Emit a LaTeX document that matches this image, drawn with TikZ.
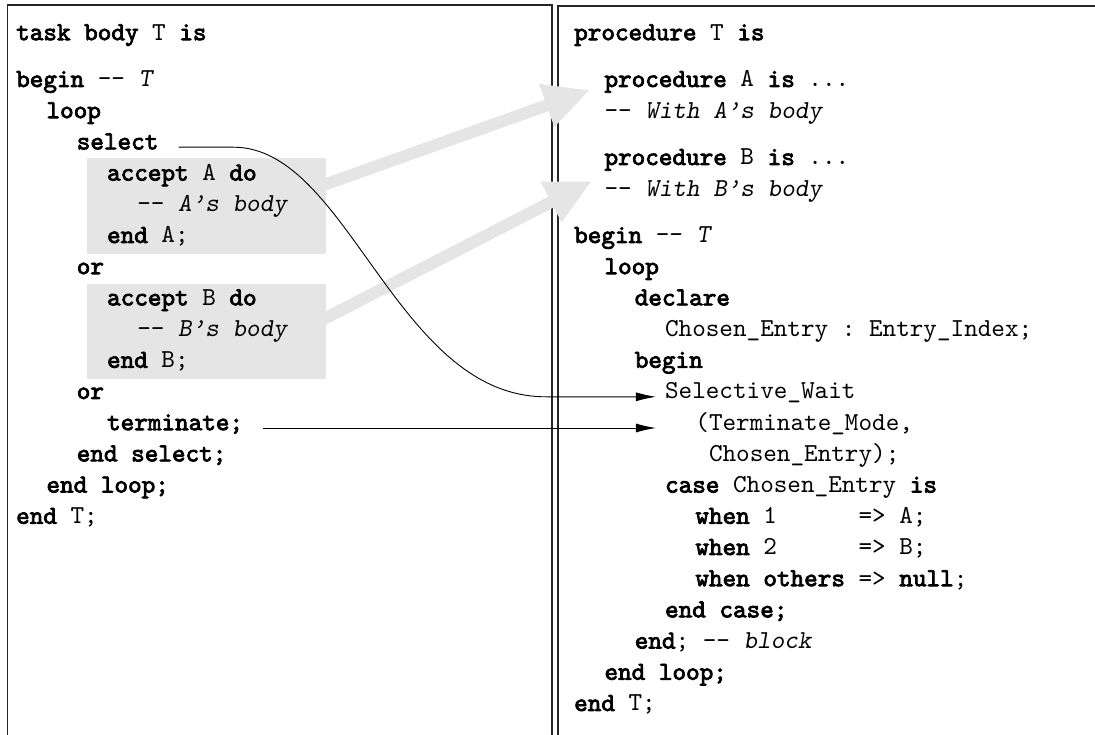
\documentclass[tikz,border=0pt]{standalone}
\usepackage{fontspec}
\setmonofont{lmmono10-regular.otf}[
  BoldFont=lmmono10-regular.otf, BoldFeatures={FakeBold=3},
  ItalicFont=lmmonoslant10-regular.otf]
\usetikzlibrary{arrows.meta}
\newcommand\kw[1]{\textbf{#1}}
\newcommand\cmt[1]{\textit{#1}}
\begin{document}
\begin{tikzpicture}[x=1pt,y=-1pt,
  adaline/.style={anchor=mid west, inner sep=0pt,
    font=\ttfamily\fontsize{25.9}{30}\selectfont},
  panelframe/.style={line width=1.3pt, black!85},
  wire/.style={line width=0.9pt},
  arrowend/.style={-{Latex[length=20pt,width=9pt]}},
  shade/.style={fill=black!10, draw=none, inner sep=0pt, anchor=north west},
  bigarrow/.style={line width=12pt, draw=black!10,
    -{Triangle[length=46pt,width=42pt]}},
]
\useasboundingbox (0,0) rectangle (1095,735);
\fill[white] (0,0) rectangle (1095,735);

% panel frames
\draw[panelframe] (7.5,735) -- (7.5,5) -- (552,5) -- (552,735);
\draw[panelframe] (558,735) -- (558,6) -- (1095,6);

% shaded accept bodies
\node[shade, minimum width=239pt, minimum height=96pt] (boxA) at (87,158) {};
\node[shade, minimum width=239pt, minimum height=95pt] (boxB) at (87,284) {};

% entry bodies moved to local procedures
\coordinate (aA) at (318,187);
\coordinate (tA) at (590,90);
\coordinate (aB) at (318,322);
\coordinate (tB) at (592,181);
\draw[bigarrow] (aA) -- (tA);
\draw[bigarrow] (aB) -- (tB);

% left column: task body
\def\L#1{\fpeval{16+30.3*#1}}
\def\R#1{\fpeval{574+30.3*#1}}
\def\Y#1{\fpeval{38+31.2*#1}}
\node[adaline] (l0) at (\L0,\Y0) {\kw{task body} T \kw{is}};
\node[adaline] (l1) at (\L0,\Y{1.5}) {\kw{begin} -{}- \cmt{T}};
\node[adaline] (l2) at (\L1,\Y{2.5}) {\kw{loop}};
\node[adaline] (sel) at (\L2,\Y{3.5}) {\kw{select}};
\node[adaline] (l4) at (\L3,\Y{4.5}) {\kw{accept} A \kw{do}};
\node[adaline] (l5) at (\L4,\Y{5.5}) {-{}- \cmt{A’s body}};
\node[adaline] (l6) at (\L3,\Y{6.5}) {\kw{end} A;};
\node[adaline] (l7) at (\L2,\Y{7.5}) {\kw{or}};
\node[adaline] (l8) at (\L3,\Y{8.5}) {\kw{accept} B \kw{do}};
\node[adaline] (l9) at (\L4,\Y{9.5}) {-{}- \cmt{B’s body}};
\node[adaline] (l10) at (\L3,\Y{10.5}) {\kw{end} B;};
\node[adaline] (l11) at (\L2,\Y{11.5}) {\kw{or}};
\node[adaline] (term) at (\L3,\Y{12.5}) {\kw{terminate;}};
\node[adaline] (l13) at (\L2,\Y{13.5}) {\kw{end select;}};
\node[adaline] (l14) at (\L1,\Y{14.5}) {\kw{end loop;}};
\node[adaline] (l15) at (\L0,\Y{15.5}) {\kw{end} T;};

% right column: equivalent procedure
\node[adaline] (r0) at (\R0,\Y0) {\kw{procedure} T \kw{is}};
\node[adaline] (r1) at (\R1,\Y{1.5}) {\kw{procedure} A \kw{is} ...};
\node[adaline] (r2) at (\R1,\Y{2.5}) {-{}- \cmt{With A’s body}};
\node[adaline] (r3) at (\R1,\Y{4}) {\kw{procedure} B \kw{is} ...};
\node[adaline] (r4) at (\R1,\Y{5}) {-{}- \cmt{With B’s body}};
\node[adaline] (r5) at (\R0,\Y{6.5}) {\kw{begin} -{}- \cmt{T}};
\node[adaline] (r6) at (\R1,\Y{7.5}) {\kw{loop}};
\node[adaline] (r7) at (\R2,\Y{8.5}) {\kw{declare}};
\node[adaline] (r8) at (\R3,\Y{9.5}) {Chosen\_Entry : Entry\_Index;};
\node[adaline] (r9) at (\R2,\Y{10.5}) {\kw{begin}};
\node[adaline] (sw) at (\R3,\Y{11.5}) {Selective\_Wait};
\node[adaline] (tm) at (\R4,\Y{12.5}) {(Terminate\_Mode,};
\node[adaline] (r12) at (\R4,\Y{13.5}) {~Chosen\_Entry);};
\node[adaline] (r13) at (\R3,\Y{14.5}) {\kw{case} Chosen\_Entry \kw{is}};
\node[adaline] (r14) at (\R4,\Y{15.5}) {\kw{when} 1~~~~~~=> A;};
\node[adaline] (r15) at (\R4,\Y{16.5}) {\kw{when} 2~~~~~~=> B;};
\node[adaline] (r16) at (\R4,\Y{17.5}) {\kw{when others} => \kw{null};};
\node[adaline] (r17) at (\R3,\Y{18.5}) {\kw{end case;}};
\node[adaline] (r18) at (\R2,\Y{19.5}) {\kw{end}; -{}- \cmt{block}};
\node[adaline] (r19) at (\R1,\Y{20.5}) {\kw{end loop;}};
\node[adaline] (r20) at (\R0,\Y{21.5}) {\kw{end} T;};

% select and terminate map onto the Selective_Wait call
\coordinate (swtip) at ([xshift=-9pt]sw.mid west);
\draw[wire, arrowend] ([xshift=20pt]sel.mid east) -- ++(55,0)
  .. controls +(115,0) and +(-150,0) .. ([xshift=-110pt]swtip) -- (swtip);
\draw[wire, arrowend] ([xshift=20pt]term.mid east) -- (swtip |- term.mid east);
\end{tikzpicture}
\end{document}
